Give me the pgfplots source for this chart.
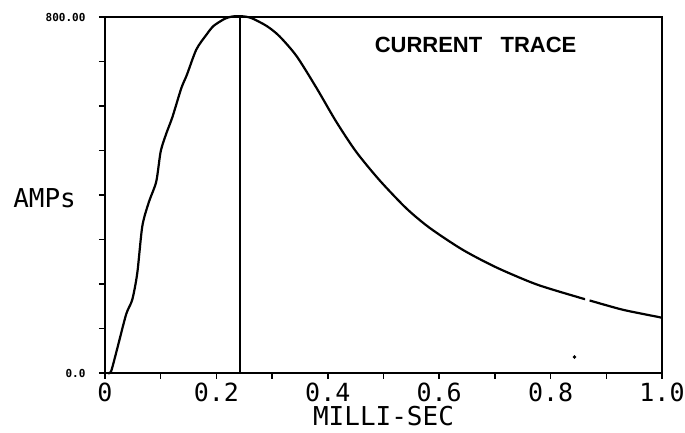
\documentclass[border=0pt]{standalone}
\usepackage{fontspec}
\setmainfont{DejaVu Sans}
\newfontfamily\plotfont{DejaVu Sans Mono}
\newfontfamily\handfont{Liberation Sans}
\usepackage{pgfplots}
\pgfplotsset{compat=1.18}
\begin{document}
\begin{tikzpicture}
\path[use as bounding box] (-105pt,-60pt) rectangle (580pt,373pt);
\begin{axis}[
  at={(0,0)}, anchor=origin,
  scale only axis, width=557pt, height=356pt,
  xmin=0, xmax=1, ymin=0, ymax=800,
  axis line style={line width=2.2pt},
  axis x line*=bottom, axis y line*=left,
  clip=false,
  xtick={0,0.1,0.2,0.3,0.4,0.5,0.6,0.7,0.8,0.9,1.0},
  xticklabels={0,,0.2,,0.4,,0.6,,0.8,,1.0},
  ytick={0,100,200,300,400,500,600,700,800},
  yticklabels={0.0,,,,,,,,800.00},
  tick align=outside,
  major tick length=6pt,
  tick style={line width=1.6pt, black},
  xticklabel style={font=\plotfont\fontsize{25}{25}\selectfont, yshift=0pt},
  yticklabel style={font=\plotfont\bfseries\fontsize{11}{11}\selectfont, xshift=-10pt},
  xlabel={MILLI-SEC},
  xlabel style={font=\plotfont\fontsize{26}{26}\selectfont, yshift=2pt},
]
\draw[line width=2.2pt] (rel axis cs:0,1) -- (rel axis cs:1,1) -- (rel axis cs:1,0);
\addplot[line width=2.2pt, black, smooth, tension=0.45] coordinates {
 (0.005,0) (0.011,4) (0.022,55) (0.038,132) (0.049,165) (0.058,225) (0.067,330)
 (0.079,385) (0.092,430) (0.100,498) (0.110,538) (0.121,575) (0.137,640)
 (0.147,670) (0.164,727) (0.182,760) (0.195,780) (0.215,796) (0.228,801)
 (0.243,802) (0.262,798) (0.290,780) (0.313,757) (0.344,712) (0.380,640) (0.415,565)
 (0.451,497) (0.493,433) (0.541,370) (0.583,326) (0.642,277) (0.703,237)
 (0.775,199) (0.853,169) (0.862,166)
};
\addplot[line width=2.2pt, black, smooth, tension=0.4] coordinates {
 (0.870,163) (0.930,142) (0.993,126) (1.0,124)
};
\addplot[line width=2pt, black] coordinates {(0.243,0) (0.243,800)};
\addplot[only marks, mark=*, mark size=1.6pt, black] coordinates {(0.843,36)};
\node[font=\plotfont\fontsize{26}{26}\selectfont, anchor=west] at (rel axis cs:-0.171,0.49) {AMPs};
\node[font=\handfont\bfseries\fontsize{22}{22}\selectfont, anchor=west] at (rel axis cs:0.478,0.922) {CURRENT\ \ \ TRACE};
\end{axis}
\end{tikzpicture}
\end{document}
